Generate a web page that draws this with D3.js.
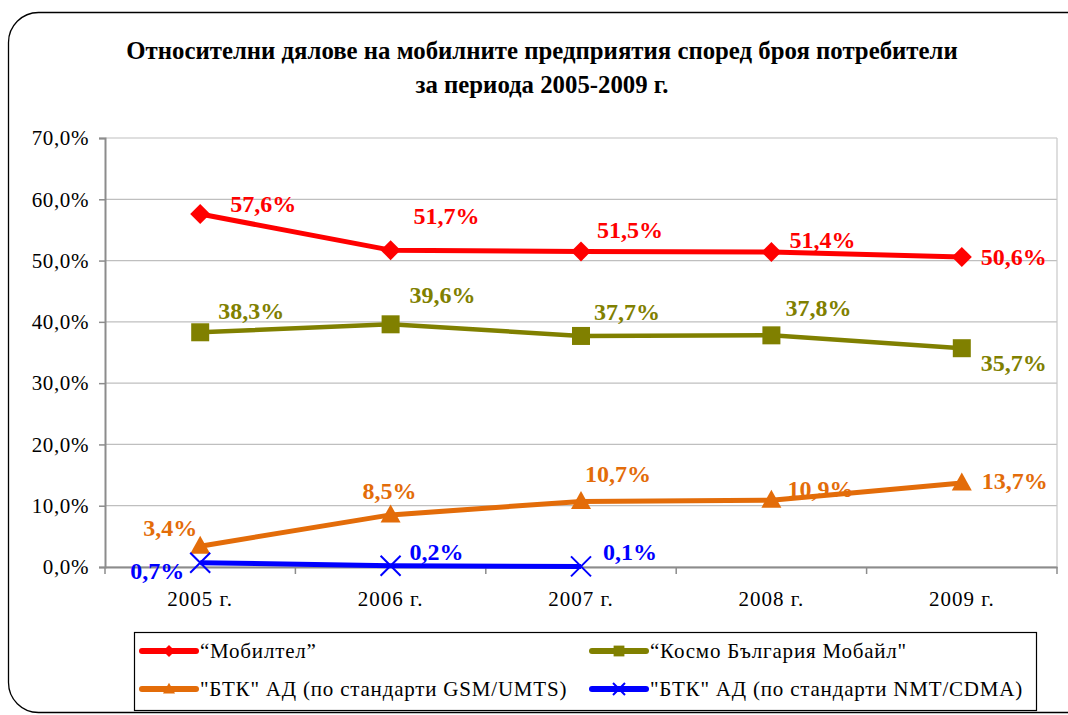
<!DOCTYPE html>
<html>
<head>
<meta charset="utf-8">
<script src="https://cdn.jsdelivr.net/npm/d3@7"></script>
<style>
  body { margin: 0; background: #fff; }
  svg { display: block; }
  svg text { font-family: "Liberation Serif", "DejaVu Serif", serif !important; }
</style>
</head>
<body>
<div id="chart"></div>
<script>
// data
const years = ["2005 г.", "2006 г.", "2007 г.", "2008 г.", "2009 г."];
const mobiltel = [57.6, 51.7, 51.5, 51.4, 50.6];
const kosmo = [38.3, 39.6, 37.7, 37.8, 35.7];
const btkGsm = [3.4, 8.5, 10.7, 10.9, 13.7];
const btkNmt = [0.7, 0.2, 0.1, null, null];
const yTicks = [0, 10, 20, 30, 40, 50, 60, 70];
const titleLines = ["Относителни дялове на мобилните предприятия според броя потребители", "за периода 2005-2009 г."];

const series = [
  { name: "“Мобилтел”", values: mobiltel, color: "#ff0000", marker: "diamond", width: 5,
    offsets: [[63, -10], [56, -35], [49, -22], [51, -12], [52, 0]] },
  { name: "“Космо България Мобайл\"", values: kosmo, color: "#808000", marker: "square", width: 4.5,
    offsets: [[51, -22], [52, -30], [46, -24], [47, -28], [52, 14]] },
  { name: "\"БТК\" АД (по стандарти GSM/UMTS)", values: btkGsm, color: "#e36c09", marker: "triangle", width: 5,
    offsets: [[-30, -19], [-1, -24], [37, -28], [49, -12], [53, -2]] },
  { name: "\"БТК\" АД (по стандарти NMT/CDMA)", values: btkNmt, color: "#0000ff", marker: "cross", width: 5,
    offsets: [[-43, 8], [46, -14], [49, -15]] }
];

const W = 1068, H = 715;
const margin = { top: 138, right: 11, bottom: 148, left: 105 };
const cw = W - margin.left - margin.right, ch = H - margin.top - margin.bottom;

const svg = d3.select("#chart").append("svg").attr("width", W).attr("height", H);

// outer rounded frame
svg.append("rect")
  .attr("x", 8.5).attr("y", 12.5).attr("width", 1090).attr("height", 700)
  .attr("rx", 30).attr("fill", "none").attr("stroke", "#000").attr("stroke-width", 1.3);

// title
svg.append("g").selectAll("text").data(titleLines).join("text")
  .attr("x", 542).attr("y", (d, i) => 59 + i * 34)
  .attr("text-anchor", "middle").attr("font-size", 24.8).attr("font-weight", "bold")
  .text(d => d);

const g = svg.append("g").attr("transform", `translate(${margin.left},${margin.top})`);

const x = d3.scaleBand().domain(years).range([0, cw]);
const y = d3.scaleLinear().domain([0, 70]).range([ch, 0]);
const fmt = v => v.toFixed(1).replace(".", ",") + "%";

// gridlines
g.append("g").selectAll("line").data(yTicks).join("line")
  .attr("x1", 0).attr("x2", cw).attr("y1", d => y(d)).attr("y2", d => y(d))
  .attr("stroke", "#bfbfbf").attr("stroke-width", 1.2);
g.append("line").attr("x1", cw).attr("x2", cw).attr("y1", 0).attr("y2", ch)
  .attr("stroke", "#c8c8c8").attr("stroke-width", 1.2);

// y axis
const yAxis = g.append("g")
  .call(d3.axisLeft(y).tickValues(yTicks).tickFormat(d => fmt(d)).tickSize(6).tickPadding(10));
yAxis.select(".domain").attr("stroke", "#8c8c8c").attr("stroke-width", 2);
yAxis.selectAll(".tick line").attr("stroke", "#8c8c8c").attr("stroke-width", 1.5);
yAxis.selectAll("text").attr("font-size", 21).attr("letter-spacing", 0.6).attr("fill", "#000");

// x axis
const xAxis = g.append("g").attr("transform", `translate(0,${ch})`)
  .call(d3.axisBottom(x).tickSize(0).tickPadding(24));
xAxis.select(".domain").attr("stroke", "#8c8c8c").attr("stroke-width", 2);
xAxis.selectAll("text").attr("font-size", 21).attr("letter-spacing", 1).attr("fill", "#000");
g.append("g").selectAll("line").data(d3.range(years.length + 1)).join("line")
  .attr("x1", i => i * x.bandwidth()).attr("x2", i => i * x.bandwidth())
  .attr("y1", ch).attr("y2", ch + 7)
  .attr("stroke", "#8c8c8c").attr("stroke-width", 1.5);

const cx = i => x(years[i]) + x.bandwidth() / 2;

function drawMarker(sel, type, color, s) {
  if (type === "diamond") {
    sel.append("path").attr("d", `M0,${-s}L${s},0L0,${s}L${-s},0Z`).attr("fill", color);
  } else if (type === "square") {
    sel.append("rect").attr("x", -s * 0.9).attr("y", -s * 0.9).attr("width", s * 1.8).attr("height", s * 1.8).attr("fill", color);
  } else if (type === "triangle") {
    sel.append("path").attr("d", `M0,${-s * 1.05}L${s},${s * 0.75}L${-s},${s * 0.75}Z`).attr("fill", color);
  } else if (type === "cross") {
    sel.append("path").attr("d", `M${-s},${-s}L${s},${s}M${s},${-s}L${-s},${s}`)
      .attr("stroke", color).attr("stroke-width", 2).attr("fill", "none");
  }
}

const line = d3.line().defined(d => d != null).x((d, i) => cx(i)).y(d => y(d));

series.forEach(s => {
  g.append("path").datum(s.values).attr("d", line)
    .attr("fill", "none").attr("stroke", s.color).attr("stroke-width", s.width)
    .attr("stroke-linejoin", "round");
});
series.forEach(s => {
  s.values.forEach((v, i) => {
    if (v == null) return;
    const m = g.append("g").attr("transform", `translate(${cx(i)},${y(v)})`);
    drawMarker(m, s.marker, s.color, 10);
  });
});
series.forEach(s => {
  s.values.forEach((v, i) => {
    if (v == null) return;
    const o = s.offsets[i];
    g.append("text")
      .attr("x", cx(i) + o[0]).attr("y", y(v) + o[1]).attr("dy", "0.35em")
      .attr("text-anchor", "middle").attr("font-size", 24).attr("font-weight", "bold")
      .attr("fill", s.color).text(fmt(v));
  });
});

// legend
const lg = svg.append("g");
lg.append("rect").attr("x", 134.5).attr("y", 632.5).attr("width", 902).attr("height", 78)
  .attr("fill", "#fff").attr("stroke", "#000").attr("stroke-width", 1.2);
const legPos = [[140, 651], [590, 651], [140, 689], [590, 689]];
series.forEach((s, i) => {
  const [lx, ly] = legPos[i];
  const e = lg.append("g").attr("transform", `translate(${lx},${ly})`);
  e.append("line").attr("x1", 2).attr("x2", 56).attr("stroke", s.color)
    .attr("stroke-width", 6).attr("stroke-linecap", "round");
  const m = e.append("g").attr("transform", "translate(29,0)");
  drawMarker(m, s.marker, s.color, 6);
  e.append("text").attr("x", 60).attr("dy", "0.35em").attr("font-size", 21)
    .attr("letter-spacing", 0.8).text(s.name);
});
</script>
</body>
</html>
